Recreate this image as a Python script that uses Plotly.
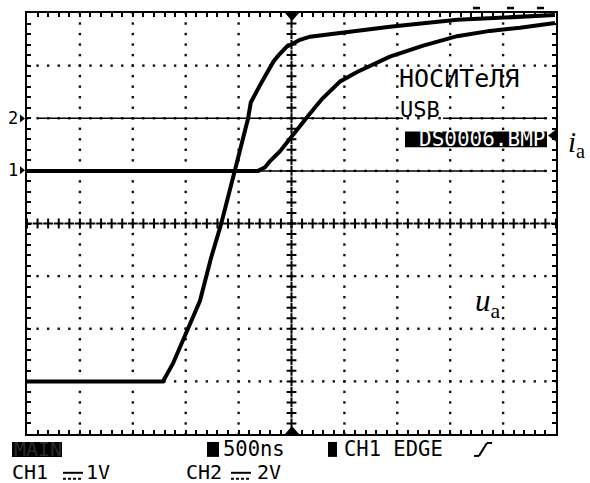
import numpy as np
import plotly.graph_objects as go

# ---- data: screen divisions (time 0..10 div at 500 ns/div, amplitude -4..4 div) ----
ch2_t = [0.0, 2.57, 2.76, 3.01, 3.27, 3.48, 3.67, 3.93, 4.18, 4.23, 4.31, 4.40, 4.50,
         4.58, 4.66, 4.75, 4.83, 4.91, 5.01, 5.16, 5.35, 5.58, 6.11, 6.86, 8.13, 9.98]
ch2_v = [-3.00, -3.00, -2.66, -2.09, -1.47, -0.65, -0.01, 1.01, 2.00, 2.30, 2.47, 2.62, 2.80,
         2.96, 3.08, 3.19, 3.28, 3.36, 3.41, 3.49, 3.55, 3.58, 3.66, 3.74, 3.87, 3.96]

ch1_t = [0.0, 4.37, 4.50, 4.59, 4.78, 4.97, 5.16, 5.35, 5.58, 5.92, 6.24, 6.86, 7.49,
         8.13, 8.75, 9.32, 9.98]
ch1_v = [1.00, 1.00, 1.07, 1.18, 1.37, 1.62, 1.84, 2.09, 2.37, 2.70, 2.88, 3.17, 3.38,
         3.56, 3.66, 3.72, 3.81]

ref_levels = [2.0, 1.0]          # CH2, CH1 ground markers
ref_labels = ["2", "1"]
trig_level = 1.70

menu_title = "НОСИТеЛЯ"
menu_usb = "USB"
menu_file = "DS0006.BMP"
status_main = "MAIN"
status_time = "500ns"
status_trig = "CH1 EDGE"
ch1_scale = "1V"
ch2_scale = "2V"

# ---- geometry ----
W, H = 590, 483
L, T, PW, PH = 27, 11, 529, 423


def X(px):
    return (px - L) / PW * 10


def PX(px):
    return (px - L) / PW


def PY(py):
    return (T + PH - py) / PH


fig = go.Figure()

# dotted graticule
fx = np.round(np.arange(0, 10.001, 0.2), 2)
fy = np.round(np.arange(-4, 4.001, 0.2), 2)
gx, gy = [], []
for xv in [1, 2, 3, 4, 6, 7, 8, 9]:
    for yv in fy:
        gx.append(xv); gy.append(yv)
for yv in [-3, -2, -1, 1, 2, 3]:
    for xv in fx:
        gx.append(xv); gy.append(yv)
fig.add_trace(go.Scatter(x=gx, y=gy, mode="markers", hoverinfo="skip",
                         marker=dict(symbol="square", size=2.4, color="#111", line=dict(width=0))))

# centre axes with crosses
cx = [5.0] * len(fy) + list(fx)
cy = list(fy) + [0.0] * len(fx)
fig.add_trace(go.Scatter(x=cx, y=cy, mode="markers", hoverinfo="skip",
                         marker=dict(symbol="cross-thin", size=7, line=dict(width=2, color="black"))))

# reference level lines
fig.add_trace(go.Scatter(x=[X(38), X(403), None, X(443), X(547)],
                         y=[ref_levels[0]] * 2 + [None] + [ref_levels[0]] * 2,
                         mode="lines", line=dict(color="black", width=1.5), hoverinfo="skip"))
fig.add_trace(go.Scatter(x=[X(27), X(547)], y=[ref_levels[1]] * 2,
                         mode="lines", line=dict(color="black", width=1.5), hoverinfo="skip"))

# waveforms
fig.add_trace(go.Scatter(x=ch2_t, y=ch2_v, mode="lines", line=dict(color="black", width=4)))
fig.add_trace(go.Scatter(x=ch1_t, y=ch1_v, mode="lines", line=dict(color="black", width=4)))

mono = "DejaVu Sans Mono"
ann = []
shapes = []


def text(px, py, s, size, color="black", family=mono, anchor="left", h=None):
    a = dict(x=PX(px), y=PY(py), xref="paper", yref="paper", text=s, showarrow=False,
             xanchor=anchor, yanchor="middle", borderpad=0,
             font=dict(family=family, size=size, color=color))
    if h:
        a["height"] = h
    ann.append(a)


def rect(x0, y0, x1, y1, color="black"):
    shapes.append(dict(type="rect", xref="paper", yref="paper", x0=PX(x0), x1=PX(x1),
                       y0=PY(y0), y1=PY(y1), fillcolor=color, line=dict(width=0),
                       layer="above"))


def seg(x0, y0, x1, y1, width=2, dash="solid"):
    shapes.append(dict(type="line", xref="paper", yref="paper", x0=PX(x0), x1=PX(x1),
                       y0=PY(y0), y1=PY(y1), line=dict(color="black", width=width, dash=dash),
                       layer="above"))


def tri(points):
    path = "M " + " L ".join(f"{PX(a)},{PY(b)}" for a, b in points) + " Z"
    shapes.append(dict(type="path", xref="paper", yref="paper", path=path,
                       fillcolor="black", line=dict(width=0), layer="above"))


# marker triangles (trigger position, ground levels, trigger level)
tri([(285, 11), (299, 11), (292, 19)])
tri([(285, 434), (299, 434), (292, 426)])
tri([(20, 113), (20, 121), (25, 117)])
tri([(20, 165), (20, 173), (25, 169)])
tri([(556, 128), (556, 140), (548, 134)])

# channel labels on the left
text(13, 117, ref_labels[0], 17, anchor="center")
text(13, 169, ref_labels[1], 17, anchor="center")

# menu texts
text(398, 77, menu_title, 25)
text(399, 108, menu_usb, 22)
rect(405, 130, 547, 146)
text(418, 138, menu_file, 21, color="white")

# bottom status bar
row1, row2 = 449, 472
rect(12, 442, 62, 457)
text(13, row1, status_main, 20, color="#2a2a2a", h=20)
rect(207, 442, 219, 457)
text(222, row1, status_time, 20.5, h=20)
rect(328, 442, 337, 457)
text(343, row1, status_trig, 20.5, h=20)
seg(474, 456, 479, 456)
seg(479, 456, 487, 443)
seg(487, 443, 492, 443)

text(11, row2, "CH1", 20, h=20)
seg(63, row2 + 1, 83, row2 + 1, 2)
seg(63, row2 + 7, 83, row2 + 7, 2, "3px,2px")
text(85, row2, ch1_scale, 20, h=20)
text(185, row2, "CH2", 20, h=20)
seg(231, row2 + 1, 251, row2 + 1, 2)
seg(231, row2 + 7, 251, row2 + 7, 2, "3px,2px")
text(256, row2, ch2_scale, 20, h=20)

# top-right clipping marks
for a in [473, 507, 537]:
    seg(a, 6, a + 7, 6, 2.5)

# italic serif labels
ann.append(dict(x=PX(566), y=PY(143), xref="paper", yref="paper", xanchor="left",
                yanchor="middle", showarrow=False, text="<i>i</i><sub>a</sub>",
                font=dict(family="Liberation Serif", size=29, color="black")))
ann.append(dict(x=PX(473), y=PY(302), xref="paper", yref="paper", xanchor="left",
                yanchor="middle", showarrow=False, text="<i>u</i><sub>a</sub>",
                font=dict(family="Liberation Serif", size=31, color="black")))

axis = dict(showgrid=False, zeroline=False, showline=True, linewidth=2, linecolor="black",
            mirror="ticks", ticks="inside", ticklen=4, tickwidth=1.5, tickcolor="black",
            showticklabels=False)
fig.update_layout(
    width=W, height=H,
    margin=dict(l=L, r=W - L - PW, t=T, b=H - T - PH, pad=0),
    paper_bgcolor="white", plot_bgcolor="white",
    showlegend=False,
    xaxis=dict(range=[0, 10], tick0=0, dtick=0.2, **axis),
    yaxis=dict(range=[-4, 4], tick0=0, dtick=0.2, **axis),
    annotations=ann, shapes=shapes,
)
fig.write_html("out.html", config={"displayModeBar": False},
               post_script="document.body.style.margin='0';")
